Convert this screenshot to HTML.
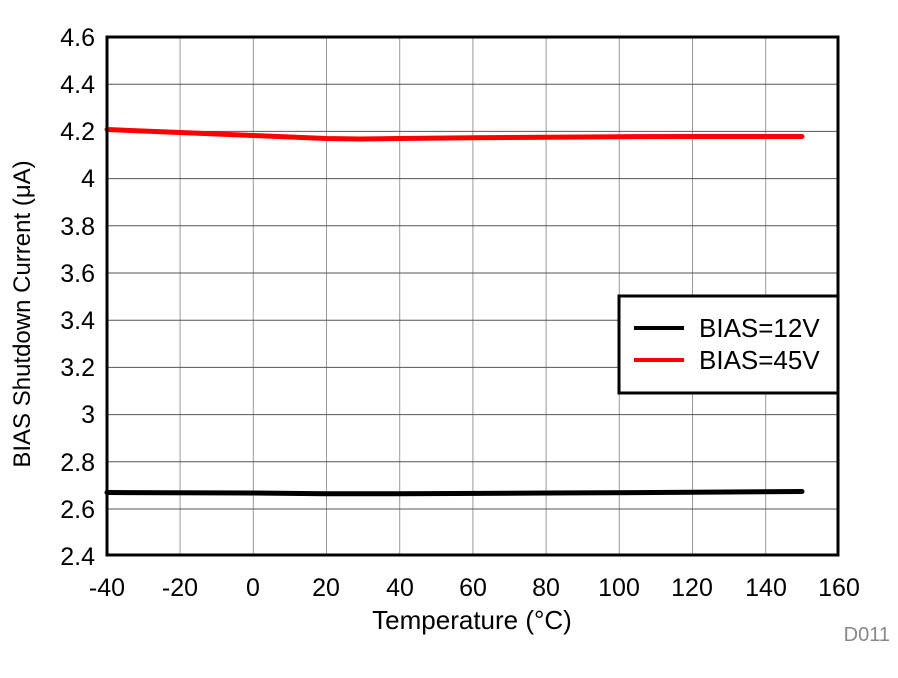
<!DOCTYPE html>
<html><head><style>body{margin:0;background:#fff}</style></head><body>
<svg width="898" height="673" xmlns="http://www.w3.org/2000/svg" font-family="Liberation Sans, Arial, sans-serif">
<rect width="898" height="673" fill="#fff"/>
<g stroke="#999" stroke-width="1">
<line x1="180.1" y1="37" x2="180.1" y2="555"/><line x1="253.3" y1="37" x2="253.3" y2="555"/>
<line x1="326.5" y1="37" x2="326.5" y2="555"/><line x1="399.7" y1="37" x2="399.7" y2="555"/>
<line x1="472.9" y1="37" x2="472.9" y2="555"/><line x1="546.1" y1="37" x2="546.1" y2="555"/>
<line x1="619.3" y1="37" x2="619.3" y2="555"/><line x1="692.5" y1="37" x2="692.5" y2="555"/>
<line x1="765.7" y1="37" x2="765.7" y2="555"/>
</g>
<g stroke="#555" stroke-width="1">
<line x1="107" y1="84.2" x2="838" y2="84.2"/><line x1="107" y1="131.4" x2="838" y2="131.4"/>
<line x1="107" y1="178.6" x2="838" y2="178.6"/><line x1="107" y1="225.8" x2="838" y2="225.8"/>
<line x1="107" y1="273" x2="838" y2="273"/><line x1="107" y1="320.2" x2="838" y2="320.2"/>
<line x1="107" y1="367.4" x2="838" y2="367.4"/><line x1="107" y1="414.6" x2="838" y2="414.6"/>
<line x1="107" y1="461.8" x2="838" y2="461.8"/><line x1="107" y1="509" x2="838" y2="509"/>
</g>
<polyline points="107,129.5 180,132.5 253,135.5 326,138.5 360,139 399,138.5 473,137.8 546,137.2 619,136.7 692,136.5 766,136.5 802,136.5" fill="none" stroke="#f00" stroke-width="5" stroke-linecap="round"/>
<polyline points="107,492.5 253,493 326,493.8 399,493.8 546,493 692,492.3 802,491.5" fill="none" stroke="#000" stroke-width="5" stroke-linecap="round"/>
<rect x="107" y="37" width="731" height="518" fill="none" stroke="#000" stroke-width="3"/>
<rect x="619" y="296" width="219" height="97" fill="#fff" stroke="#000" stroke-width="3"/>
<line x1="634" y1="328" x2="684" y2="328" stroke="#000" stroke-width="4"/>
<line x1="634" y1="360" x2="684" y2="360" stroke="#f00" stroke-width="4"/>
<g font-size="26" fill="#000">
<text x="699" y="337">BIAS=12V</text><text x="699" y="369">BIAS=45V</text>
</g>
<g font-size="25" fill="#000" text-anchor="end">
<text x="95" y="46">4.6</text><text x="95" y="93">4.4</text><text x="95" y="140">4.2</text>
<text x="95" y="187">4</text><text x="95" y="235">3.8</text><text x="95" y="282">3.6</text>
<text x="95" y="329">3.4</text><text x="95" y="376">3.2</text><text x="95" y="423">3</text>
<text x="95" y="471">2.8</text><text x="95" y="518">2.6</text><text x="95" y="565">2.4</text>
</g>
<g font-size="25" fill="#000" text-anchor="middle">
<text x="107" y="596">-40</text><text x="180" y="596">-20</text><text x="253" y="596">0</text>
<text x="326" y="596">20</text><text x="400" y="596">40</text><text x="473" y="596">60</text>
<text x="546" y="596">80</text><text x="619" y="596">100</text><text x="692" y="596">120</text>
<text x="766" y="596">140</text><text x="839" y="596">160</text>
<text x="472" y="629" font-size="26">Temperature (°C)</text>
<text transform="translate(30,314) rotate(-90)" font-size="24">BIAS Shutdown Current (μA)</text>
</g>
<text x="890" y="641" font-size="20" fill="#888" text-anchor="end">D011</text>
</svg>
</body></html>
